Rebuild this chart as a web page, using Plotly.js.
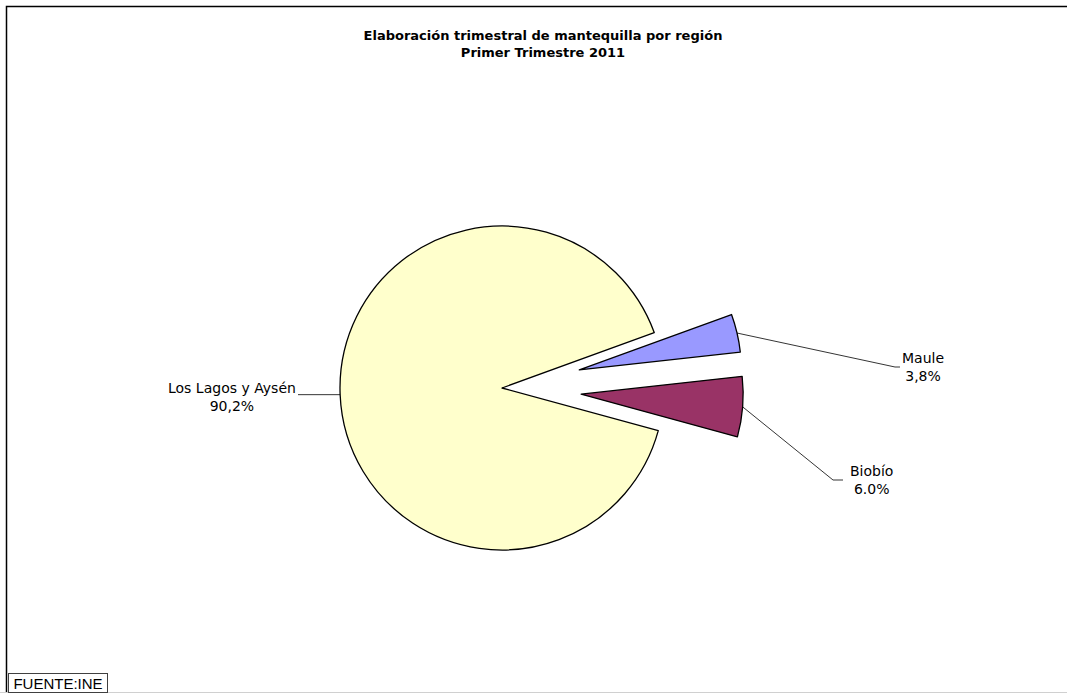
<!DOCTYPE html>
<html>
<head>
<meta charset="utf-8">
<script src="https://cdn.plot.ly/plotly-3.0.1.min.js"></script>
<style>
html, body { margin: 0; padding: 0; background: #fff; }
#chart { width: 1067px; height: 693px; }
</style>
</head>
<body>
<div id="chart"></div>
<script>
// data
const regions = ['Maule', 'Biobío', 'Los Lagos y Aysén'];
const shares = [3.8, 6.0, 90.2];
const shareText = ['3,8%', '6.0%', '90,2%'];
const explode = [0.49, 0.49, 0];
const sliceColors = ['#9999FF', '#993366', '#FFFFCC'];

// geometry (pixels)
const W = 1067, H = 693;
const cx = 502, cy = 388, R = 162;
const rotation = 70;
const maxPull = Math.max(...explode);
const half = R * (1 + maxPull);

const px = x => x / W;
const py = y => 1 - y / H;

// outer arc midpoint of every slice (after pull) -> leader line start
const total = shares.reduce((a, b) => a + b, 0);
let acc = 0;
const arcMid = shares.map((v, i) => {
    const mid = (rotation + (acc + v / 2) / total * 360) * Math.PI / 180;
    acc += v;
    const d = R * (1 + explode[i]);
    return [cx + d * Math.sin(mid), cy - d * Math.cos(mid)];
});

// label centres and leader elbows
const labelPos = [[923, 367], [871, 480], [232, 397]];
const elbows = [
    [[895, 367], [900, 367]],
    [[833, 480], [843, 480]],
    [[298, arcMid[2][1]]]
];

const leaderShapes = arcMid.map((p, i) => {
    const pts = [p].concat(elbows[i]);
    const d = pts.map((q, k) => (k ? 'L' : 'M') + px(q[0]) + ',' + py(q[1])).join(' ');
    return { type: 'path', xref: 'paper', yref: 'paper', path: d, line: { color: '#000', width: 0.8 } };
});

const labelNotes = regions.map((r, i) => ({
    xref: 'paper', yref: 'paper',
    x: px(labelPos[i][0]), y: py(labelPos[i][1]),
    xanchor: 'center', yanchor: 'middle',
    text: r + '<br>' + shareText[i],
    showarrow: false,
    font: { family: 'DejaVu Sans', size: 14, color: '#000' }
}));

const pieData = [{
    type: 'pie',
    labels: regions,
    values: shares,
    pull: explode,
    sort: false,
    direction: 'clockwise',
    rotation: rotation,
    textinfo: 'none',
    hoverinfo: 'label+percent',
    marker: { colors: sliceColors, line: { color: '#000', width: 1.3 } },
    domain: {
        x: [px(cx - half), px(cx + half)],
        y: [py(cy + half), py(cy - half)]
    },
    showlegend: false
}];

const layout = {
    width: W, height: H,
    margin: { l: 0, r: 0, t: 0, b: 0 },
    paper_bgcolor: '#fff',
    title: {
        text: 'Elaboración trimestral de mantequilla por región<br>Primer Trimestre 2011',
        x: px(543), xanchor: 'center',
        y: py(40), yanchor: 'top',
        font: { family: 'DejaVu Sans', size: 13, weight: 'bold', color: '#000' }
    },
    shapes: [
        // chart frame
        { type: 'path', xref: 'paper', yref: 'paper',
          path: 'M' + px(6.5) + ',' + py(700) + ' L' + px(6.5) + ',' + py(6.5) + ' L' + px(1070) + ',' + py(6.5),
          line: { color: '#000', width: 1.5 } },
        { type: 'line', xref: 'paper', yref: 'paper', x0: 0, x1: 1, y0: py(692.5), y1: py(692.5),
          line: { color: '#d0d0d0', width: 1 } }
    ].concat(leaderShapes),
    annotations: labelNotes.concat([{
        xref: 'paper', yref: 'paper',
        x: px(8), y: py(693), xanchor: 'left', yanchor: 'bottom',
        text: 'FUENTE:INE', showarrow: false,
        width: 96, height: 16,
        font: { family: 'Liberation Sans, Arial', size: 15, color: '#000' },
        bgcolor: '#fff', bordercolor: '#404040', borderwidth: 1, borderpad: 1
    }])
};

Plotly.newPlot('chart', pieData, layout, { displayModeBar: false });
</script>
</body>
</html>
